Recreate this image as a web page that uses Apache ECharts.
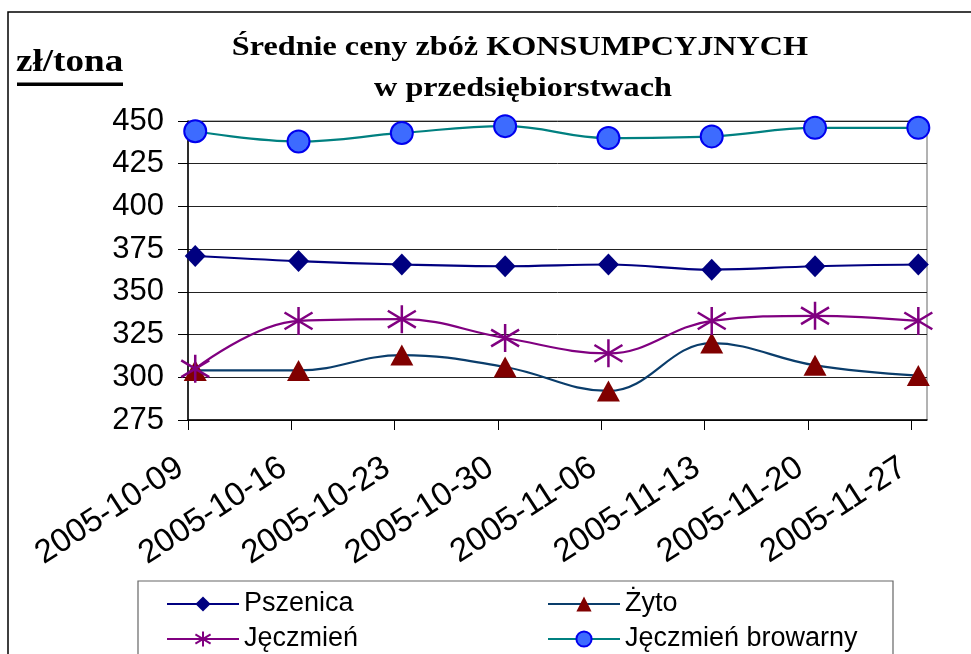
<!DOCTYPE html>
<html>
<head>
<meta charset="utf-8">
<script src="https://cdn.jsdelivr.net/npm/echarts@6/dist/echarts.min.js"></script>
<style>
html,body{margin:0;padding:0;background:#fff;}
#chart{width:971px;height:654px;}
</style>
</head>
<body>
<div id="chart"></div>
<script>
// ---- data ----
var categories = ['2005-10-09','2005-10-16','2005-10-23','2005-10-30','2005-11-06','2005-11-13','2005-11-20','2005-11-27'];
var seriesNames = ['Pszenica','Żyto','Jęczmień','Jęczmień browarny'];
var pszenica = [371, 368, 366, 365, 366, 363, 365, 366];
var zyto     = [304, 304, 313, 306, 292, 320, 307, 301];
var jeczmien = [305, 333, 334, 323, 314, 333, 336, 333];
var browarny = [444, 438, 443, 447, 440, 441, 446, 446];
var yTicks = [275, 300, 325, 350, 375, 400, 425, 450];

var MARKER_SHIFT = 0.07;   // markers sit slightly right of the category ticks
var X_MAX = 7.154;         // plot area extends a little past the last tick

function pts(arr){ return arr.map(function(v,i){ return [i + MARKER_SHIFT, v]; }); }
var idx = categories.map(function(c,i){ return i; });

var SANS = '"Liberation Sans", Arial, sans-serif';
var SERIF = '"Liberation Serif", "Times New Roman", serif';
var ASTERISK = 'path://M10,0 L10,20 M0,4 L20,16 M0,16 L20,4';

var chart = echarts.init(document.getElementById('chart'), null, {renderer:'canvas'});
var legendCommon = {orient:'vertical', top:590, height:90, padding:0, itemWidth:72, itemHeight:19, itemGap:7,
     textStyle:{fontSize:27, fontFamily:SANS, color:'#000', lineHeight:28}};
var option = {
  backgroundColor: '#fff',
  animation: false,
  graphic: [
    {type:'rect', shape:{x:8, y:12, width:1000, height:700}, style:{fill:'none', stroke:'#000', lineWidth:1.5}, z:-10},
    {type:'rect', shape:{x:138, y:581, width:755, height:120}, style:{fill:'none', stroke:'#666', lineWidth:1.2}, z:-5},
    {type:'text', x:520, y:48, scaleX:1.15, style:{text:'Średnie ceny zbóż KONSUMPCYJNYCH', font:'bold 28px ' + SERIF, fill:'#000', textAlign:'center', textVerticalAlign:'middle'}},
    {type:'text', x:523, y:89, scaleX:1.15, style:{text:'w przedsiębiorstwach', font:'bold 28px ' + SERIF, fill:'#000', textAlign:'center', textVerticalAlign:'middle'}},
    {type:'text', x:16, y:63, scaleX:1.16, style:{text:'zł/tona', font:'bold 32px ' + SERIF, fill:'#000', textAlign:'left', textVerticalAlign:'middle'}},
    {type:'rect', shape:{x:17, y:82.5, width:106, height:3.5}, style:{fill:'#000'}}
  ],
  grid: {left:188, top:121, right:44, bottom:234, show:true, borderColor:'#666', borderWidth:1, backgroundColor:'transparent'},
  legend: [
    Object.assign({data:[seriesNames[0], seriesNames[2]], left:166}, legendCommon),
    Object.assign({data:[seriesNames[1], seriesNames[3]], left:547}, legendCommon)
  ],
  xAxis: {
    type:'value', min:0, max:X_MAX,
    axisLine:{show:true, lineStyle:{color:'#000', width:1.5}},
    axisTick:{show:true, length:10, lineStyle:{color:'#000'}, customValues: idx},
    axisLabel:{customValues: idx, rotate:33, margin:40, padding:[0,9,0,0], fontSize:33, fontFamily:SANS, color:'#000',
      formatter:function(v){ return categories[Math.round(v)] || ''; }},
    splitLine:{show:false}
  },
  yAxis: {
    type:'value', min:yTicks[0], max:yTicks[yTicks.length-1], interval:25,
    axisLine:{show:true, lineStyle:{color:'#000', width:1.5}},
    axisTick:{show:true, length:10, lineStyle:{color:'#000'}},
    axisLabel:{fontSize:31, fontFamily:SANS, color:'#000', margin:24},
    splitLine:{show:true, lineStyle:{color:'#222', width:1}}
  },
  series: [
    {name:seriesNames[0], type:'line', data:pts(pszenica), smooth:0.4,
     symbol:'diamond', symbolSize:[21,22],
     lineStyle:{color:'#000080', width:2.2}, itemStyle:{color:'#000080', borderColor:'#000080', borderWidth:0}},
    {name:seriesNames[1], type:'line', data:pts(zyto), smooth:0.4,
     symbol:'triangle', symbolSize:[23,21],
     lineStyle:{color:'#0A3D6B', width:2.2}, itemStyle:{color:'#800000', borderColor:'#800000', borderWidth:0}},
    {name:seriesNames[2], type:'line', data:pts(jeczmien), smooth:0.4,
     symbol:ASTERISK, symbolSize:[28,28],
     lineStyle:{color:'#800080', width:2.2}, itemStyle:{color:'#800080', borderColor:'#800080', borderWidth:2.5}},
    {name:seriesNames[3], type:'line', data:pts(browarny), smooth:0.4,
     symbol:'circle', symbolSize:22,
     lineStyle:{color:'#008080', width:2.2}, itemStyle:{color:'#3D6BFF', borderColor:'#0000EE', borderWidth:2}}
  ]
};
chart.setOption(option);
</script>
</body>
</html>
